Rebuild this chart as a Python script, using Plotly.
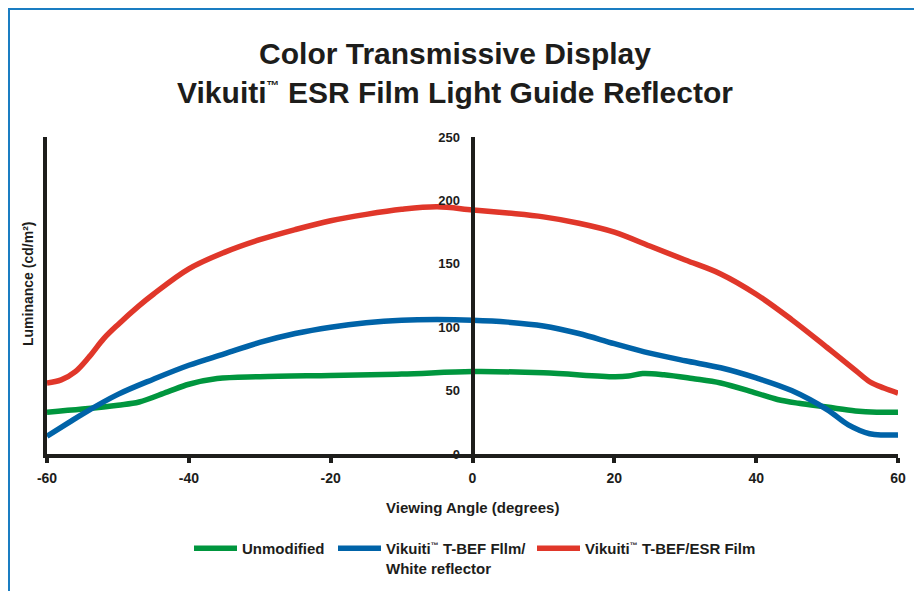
import plotly.graph_objects as go

# ---- data ----
angle_red = [-60, -58, -56, -54, -52, -50, -47, -45, -40, -35, -30, -25, -20, -15, -10, -5, 0, 5, 10, 15, 20, 25, 30, 35, 40, 45, 50, 54, 56, 58, 60]
esr_film = [56, 58.5, 65, 77, 91, 102, 117, 126, 146, 159, 169, 177, 184, 189, 193, 195, 192.5, 190, 187, 182, 175, 164, 153, 142, 126, 106, 84, 66, 57, 52, 48]

angle_blue = [-60, -57, -55, -50, -45, -40, -35, -30, -25, -20, -15, -10, -5, 0, 5, 10, 15, 20, 25, 30, 35, 40, 45, 50, 53, 56, 58, 60]
white_reflector = [14, 24.5, 31.5, 47, 59, 70, 79, 88, 95, 100, 103.5, 105.5, 106, 105.5, 104, 101, 95, 87, 79.5, 73.5, 68, 60, 50, 35, 23, 16, 15, 15]

angle_green = [-60, -55, -50, -47, -43, -40, -36, -30, -20, -10, 0, 10, 20, 22, 24, 27, 31, 35, 40, 43, 46, 50, 54, 57, 60]
unmodified = [33, 35.5, 38.5, 41, 49, 55, 59.5, 61, 62, 63, 65, 64, 61, 61.5, 63.5, 62.5, 59.5, 56, 48, 43, 40, 37, 34, 33, 33]

x_ticks = [-60, -40, -20, 0, 20, 40, 60]
y_ticks = [0, 50, 100, 150, 200, 250]

TM = "<sup><span style='font-size:8px'>™</span></sup>"
TM_T = "<sup><span style='font-size:13px'>™</span></sup>"
series_names = ["Unmodified", "Vikuiti" + TM + " T-BEF Fllm/<br>White reflector", "Vikuiti" + TM + " T-BEF/ESR Film"]

GREEN = "#00963e"
BLUE = "#0063a8"
RED = "#e0372a"
AXIS = "#1d1d1b"
FONT = "Liberation Sans, Arial, sans-serif"

# page body has an 8px margin: positions below are in figure pixels (= reference - 8)
W, H = 922, 591
L, T = 39, 129
pw, ph = 851, 317
R = W - L - pw
B = H - T - ph

def px_x(px):
    return (px - L) / pw

def px_y(py):
    return (H - B - py) / ph

fig = go.Figure()
fig.add_trace(go.Scatter(x=angle_green, y=unmodified, mode="lines", name=series_names[0], legend="legend",
                         line=dict(color=GREEN, width=5.5, shape="spline", smoothing=1.0)))
fig.add_trace(go.Scatter(x=angle_blue, y=white_reflector, mode="lines", name=series_names[1], legend="legend2",
                         line=dict(color=BLUE, width=5.5, shape="spline", smoothing=1.0)))
fig.add_trace(go.Scatter(x=angle_red, y=esr_film, mode="lines", name=series_names[2], yaxis="y2", legend="legend3",
                         line=dict(color=RED, width=5.5, shape="spline", smoothing=1.0)))

legend_font = dict(size=15, family=FONT, color=AXIS, weight="bold")
legend_row_y = px_y(524)

def legend_at(x_fig):
    return dict(orientation="h", x=px_x(x_fig), xanchor="left", y=legend_row_y, yanchor="top",
                valign="top", itemwidth=43, font=legend_font, bgcolor="rgba(0,0,0,0)")

fig.update_layout(
    width=W, height=H,
    margin=dict(l=L, r=R, t=T, b=B),
    paper_bgcolor="white", plot_bgcolor="white",
    font=dict(family=FONT, color=AXIS),
    title=dict(text="<b>Color Transmissive Display<br>Vikuiti" + TM_T + " ESR Film Light Guide Reflector</b>",
               x=447 / W, xanchor="center", y=1 - 56 / H, yanchor="middle",
               font=dict(size=30, color=AXIS, family=FONT)),
    xaxis=dict(range=[-60, 60], tickvals=x_ticks, ticktext=[str(v) for v in x_ticks],
               showline=True, linecolor=AXIS, linewidth=4, ticks="outside", ticklen=5, tickwidth=4,
               tickcolor=AXIS, showgrid=False, zeroline=False, ticklabelstandoff=3,
               tickfont=dict(size=14, family=FONT, color=AXIS, weight="bold")),
    yaxis=dict(range=[0, 250], showline=True, linecolor=AXIS, linewidth=4, showticklabels=False,
               ticks="", showgrid=False, zeroline=False),
    yaxis2=dict(range=[0, 250], overlaying="y", anchor="free", position=0.5, side="left",
                showline=True, linecolor=AXIS, linewidth=4, tickvals=y_ticks,
                ticktext=[str(v) for v in y_ticks], ticks="", showgrid=False, zeroline=False,
                ticklabelstandoff=8,
                tickfont=dict(size=13, family=FONT, color=AXIS, weight="bold")),
    showlegend=True,
    legend=legend_at(181),
    legend2=legend_at(325),
    legend3=legend_at(524),
    annotations=[
        dict(text="<b>Luminance (cd/m²)</b>", x=px_x(20), y=px_y(276), xref="paper", yref="paper",
             textangle=-90, showarrow=False, font=dict(size=14, family=FONT, color=AXIS),
             xanchor="center", yanchor="middle"),
        dict(text="<b>Viewing Angle (degrees)</b>", x=px_x(464), y=px_y(499), xref="paper", yref="paper",
             showarrow=False, font=dict(size=15, family=FONT, color=AXIS),
             xanchor="center", yanchor="middle"),
    ],
    shapes=[
        dict(type="rect", xref="paper", yref="paper", x0=px_x(1), x1=px_x(913), y0=px_y(640), y1=px_y(1),
             line=dict(color="#1a7dc2", width=2), fillcolor="rgba(0,0,0,0)", layer="below"),
    ],
)

fig.write_html("out.html")
